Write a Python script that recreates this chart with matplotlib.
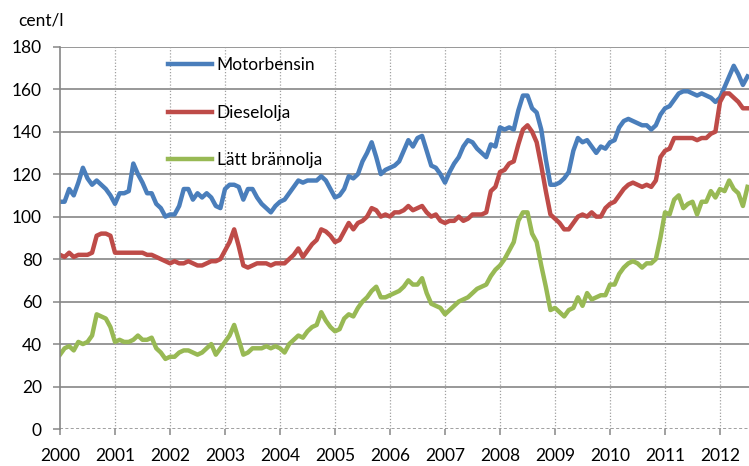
import matplotlib
matplotlib.use('Agg')
import matplotlib.pyplot as plt
import numpy as np

# monthly prices, cent/l, Jan 2000 .. Jul 2012
motorbensin = [
    107, 107, 113, 110, 116, 123, 118, 115, 117, 115, 113, 110,
    106, 111, 111, 112, 125, 120, 116, 111, 111, 106, 104, 100,
    101, 101, 105, 113, 113, 108, 111, 109, 111, 109, 105, 104,
    113, 115, 115, 114, 108, 113, 113, 109, 106, 104, 102, 105,
    107, 108, 111, 114, 117, 116, 117, 117, 117, 119, 117, 113,
    109, 110, 113, 119, 118, 120, 126, 130, 135, 128, 120, 122,
    123, 124, 126, 131, 136, 133, 137, 138, 131, 124, 123, 120,
    116, 121, 125, 128, 133, 136, 135, 132, 130, 128, 134, 133,
    142, 141, 142, 141, 150, 157, 157, 151, 149, 141, 127, 115,
    115, 116, 118, 121, 131, 137, 135, 136, 133, 130, 133, 132,
    135, 136, 142, 145, 146, 145, 144, 143, 143, 141, 143, 148,
    151, 152, 155, 158, 159, 159, 158, 157, 158, 157, 156, 154,
    156, 161, 166, 171, 167, 162, 166,
]
dieselolja = [
    82, 81, 83, 81, 82, 82, 82, 83, 91, 92, 92, 91,
    83, 83, 83, 83, 83, 83, 83, 82, 82, 81, 80, 79,
    78, 79, 78, 78, 79, 78, 77, 77, 78, 79, 79, 80,
    84, 88, 94, 86, 77, 76, 77, 78, 78, 78, 77, 78,
    78, 78, 80, 82, 85, 81, 84, 87, 89, 94, 93, 91,
    88, 89, 93, 97, 94, 97, 98, 100, 104, 103, 100, 101,
    100, 102, 102, 103, 105, 103, 104, 105, 102, 100, 101, 98,
    97, 98, 98, 100, 98, 99, 101, 101, 101, 102, 112, 114,
    121, 122, 125, 126, 134, 141, 143, 140, 135, 124, 112, 101,
    99, 97, 94, 94, 97, 100, 101, 100, 102, 100, 100, 104,
    106, 107, 110, 113, 115, 116, 115, 114, 115, 114, 117, 128,
    131, 132, 137, 137, 137, 137, 137, 136, 137, 137, 139, 140,
    154, 158, 158, 156, 154, 151, 151,
]
latt_brannolja = [
    35, 38, 39, 37, 41, 40, 41, 44, 54, 53, 52, 48,
    41, 42, 41, 41, 42, 44, 42, 42, 43, 38, 36, 33,
    34, 34, 36, 37, 37, 36, 35, 36, 38, 40, 35, 38,
    41, 44, 49, 42, 35, 36, 38, 38, 38, 39, 38, 39,
    38, 36, 40, 42, 44, 43, 46, 48, 49, 55, 51, 48,
    46, 47, 52, 54, 53, 57, 60, 62, 65, 67, 62, 62,
    63, 64, 65, 67, 70, 68, 68, 71, 64, 59, 58, 57,
    54, 56, 58, 60, 61, 62, 64, 66, 67, 68, 72, 75,
    77, 80, 84, 88, 98, 102, 102, 92, 88, 77, 67, 56,
    57, 55, 53, 56, 57, 62, 58, 64, 61, 62, 63, 63,
    68, 68, 73, 76, 78, 79, 78, 76, 78, 78, 80, 90,
    102, 101, 108, 110, 104, 106, 107, 101, 107, 107, 112, 109,
    113, 112, 117, 113, 111, 105, 114,
]
year_ticks = list(range(2000, 2013))

dates = 2000 + np.arange(len(motorbensin)) / 12.0

plt.rcParams['font.family'] = ['Lato', 'DejaVu Sans']
fig = plt.figure(figsize=(7.49, 4.66), dpi=100)
ax = fig.add_axes([60 / 749, 37 / 466, 689 / 749, 382.3 / 466])

grid_c = '#868686'
ax.plot(dates, motorbensin, color='#4a7ebb', lw=3.2, label='Motorbensin', solid_joinstyle='round')
ax.plot(dates, dieselolja, color='#be4b48', lw=3.2, label='Dieselolja', solid_joinstyle='round')
ax.plot(dates, latt_brannolja, color='#98b954', lw=3.2, label='Lätt brännolja', solid_joinstyle='round')

ax.set_xlim(2000, 2000 + 689 / 55.0)
ax.set_ylim(0, 180)
ax.set_yticks(range(0, 181, 20))
ax.set_xticks(year_ticks)
ax.set_xticklabels([str(y) for y in year_ticks])

for v in range(20, 181, 20):
    ax.axhline(v, color=grid_c, lw=1.2, zorder=0)
for y in year_ticks[1:]:
    ax.axvline(y, color='#a0a0a0', lw=0.9, ls=(0, (1, 1.5)), zorder=0)
ax.axhline(0, color=grid_c, lw=1.1, ls=(0, (2, 1.5)), zorder=0)

for s in ['top', 'right', 'bottom']:
    ax.spines[s].set_visible(False)
ax.spines['left'].set_color(grid_c)
ax.spines['left'].set_linewidth(1.2)

ax.tick_params(axis='y', length=5, width=1.1, color=grid_c, pad=8, labelsize=12.5)
ax.tick_params(axis='x', length=4, width=1.1, color=grid_c, pad=10, labelsize=12.5)

ax.legend(loc='upper left', bbox_to_anchor=(0.157, 0.972), frameon=False,
          borderpad=0, borderaxespad=0, handlelength=2.55, handletextpad=0.25,
          labelspacing=1.8, fontsize=12.5)

fig.text(18 / 749, 1 - 21 / 466, 'cent/l', fontsize=12.5, va='center', ha='left')

fig.savefig('out.png', dpi=100)
